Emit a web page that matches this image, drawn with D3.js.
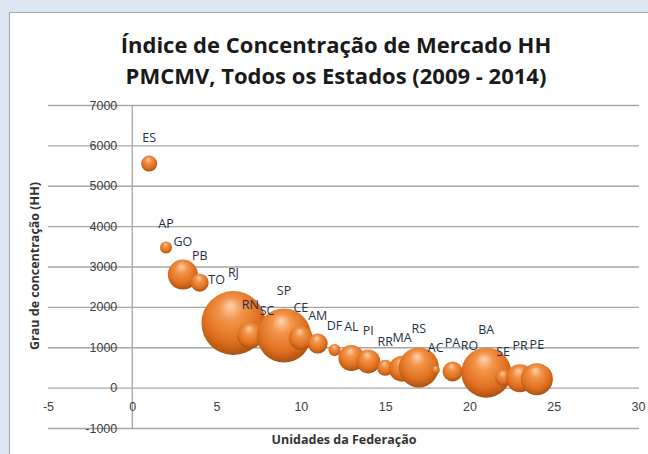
<!DOCTYPE html>
<html lang="pt">
<head>
<meta charset="utf-8">
<title>Índice de Concentração de Mercado HH</title>
<style>
  body { margin: 0; background: #dce6f2; }
  svg { display: block; font-family: "Open Sans", sans-serif; }
  .tick text { fill: #404040; font-size: 12.5px; }
  .grid line { stroke: #a6a6a6; stroke-width: 1.3; }
  .lbl { fill: #1f3042; font-size: 12.5px; }
</style>
</head>
<body>
<svg id="chart" width="648" height="454"></svg>
<script src="https://d3js.org/d3.v7.min.js"></script>
<script>
// Unidades da Federação (eixo x = posição)
var states = ["ES","AP","GO","PB","TO","RJ","RN","SC","SP","CE","AM","DF",
              "AL","PI","RR","MA","RS","AC","PA","RO","BA","SE","PR","PE"];
var unitIdx = [1,2,3,4,5,6,7,8,9,10,11,12,13,14,15,16,17,18,19,20,21,22,23,24];
// grau de concentração (HH)
var hh = [5550,3470,2800,2600,2100,1600,1290,1340,1290,1230,1090,930,
          735,650,490,470,500,440,400,470,370,250,230,210];
// tamanho da bolha (estimado)
var bubble = [64,36,225,81,25,1024,169,25,729,144,100,36,
              169,144,64,169,400,16,100,25,625,64,196,256];
var yTicks = [-1000,0,1000,2000,3000,4000,5000,6000,7000];
var xTicks = [-5,0,5,10,15,20,25,30];

var svg = d3.select('#chart');

// área do gráfico
svg.append('rect')
  .attr('x', 9.5).attr('y', 12.5)
  .attr('width', 650).attr('height', 450)
  .attr('fill', '#fff').attr('stroke', '#a6a6a6');

var x = d3.scaleLinear().domain([-5, 30]).range([48, 638]),
    y = d3.scaleLinear().domain([-1000, 7000]).range([428, 105]),
    r = d3.scaleSqrt().domain([0, d3.max(bubble)]).range([0, 32]);

var fmt = function(d) { return String(d); };

// linhas de grade
var grid = svg.append('g').attr('class', 'grid')
  .attr('transform', 'translate(' + x(-5) + ',0)')
  .call(d3.axisLeft(y).tickValues(yTicks).tickSize(-(x(30) - x(-5) + 1)).tickFormat(''));
grid.select('.domain').remove();

// eixo vertical em x = 0
svg.append('line')
  .attr('x1', x(0)).attr('x2', x(0))
  .attr('y1', y(-1000)).attr('y2', y(7000))
  .attr('stroke', '#a6a6a6').attr('stroke-width', 1.3);

// gradiente das bolhas
var defs = svg.append('defs');
var grad = defs.append('radialGradient').attr('id', 'ball')
  .attr('cx', '48%').attr('cy', '42%').attr('r', '60%').attr('fx', '45%').attr('fy', '22%');
grad.append('stop').attr('offset', '0%').attr('stop-color', '#fdd3b0');
grad.append('stop').attr('offset', '30%').attr('stop-color', '#f3944a');
grad.append('stop').attr('offset', '72%').attr('stop-color', '#e0701f');
grad.append('stop').attr('offset', '100%').attr('stop-color', '#a54e0e');

var data = states.map(function(s, i) {
  return {uf: s, x: unitIdx[i], hh: hh[i], size: bubble[i]};
});

svg.append('g').selectAll('circle')
  .data(data)
  .enter().append('circle')
  .attr('cx', function(d) { return x(d.x); })
  .attr('cy', function(d) { return y(d.hh); })
  .attr('r', function(d) { return r(d.size); })
  .attr('fill', 'url(#ball)');

// rótulos dos estados
svg.append('g').selectAll('text')
  .data(data)
  .enter().append('text')
  .attr('class', 'lbl')
  .attr('text-anchor', 'middle')
  .attr('x', function(d) { return x(d.x); })
  .attr('y', function(d) { return y(d.hh) - r(d.size) - 14; })
  .text(function(d) { return d.uf; });

// rótulos do eixo y
var yAxis = svg.append('g')
  .attr('transform', 'translate(' + x(0) + ',0)')
  .call(d3.axisLeft(y).tickValues(yTicks).tickSize(0).tickPadding(15).tickFormat(fmt));
yAxis.select('.domain').remove();

// rótulos do eixo x
var xAxis = svg.append('g')
  .attr('transform', 'translate(0,' + y(0) + ')')
  .call(d3.axisBottom(x).tickValues(xTicks).tickSize(0).tickPadding(14).tickFormat(fmt));
xAxis.select('.domain').remove();

// títulos
var title = svg.append('text')
  .attr('text-anchor', 'middle')
  .attr('font-size', 22).attr('font-weight', 'bold').attr('fill', '#1a1a1a');
title.append('tspan').attr('x', 336).attr('y', 53).text('Índice de Concentração de Mercado HH');
title.append('tspan').attr('x', 336).attr('y', 84).text('PMCMV, Todos os Estados (2009 - 2014)');

svg.append('text')
  .attr('text-anchor', 'middle')
  .attr('x', 344).attr('y', 444)
  .attr('font-size', 12.5).attr('font-weight', 'bold').attr('fill', '#333')
  .text('Unidades da Federação');

svg.append('text')
  .attr('text-anchor', 'middle')
  .attr('transform', 'translate(39,266) rotate(-90)')
  .attr('font-size', 12.5).attr('font-weight', 'bold').attr('fill', '#333')
  .text('Grau de concentração (HH)');
</script>
</body>
</html>
